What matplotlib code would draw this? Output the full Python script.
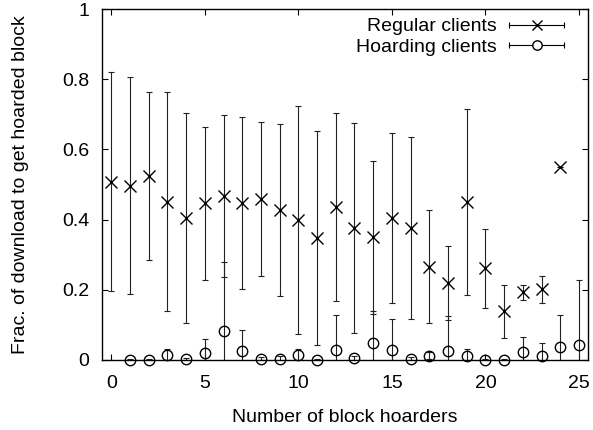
#!/usr/bin/env python3
"""Fraction of download needed to get the hoarded block, vs. number of hoarders."""

import numpy as np
import matplotlib
matplotlib.use("Agg")
import matplotlib.pyplot as plt
from matplotlib.lines import Line2D
from matplotlib.legend_handler import HandlerBase

# regular clients: x = 0..24
regular_x = list(range(0, 25))
regular_mean = [0.508, 0.496, 0.524, 0.451, 0.405, 0.446, 0.467, 0.446, 0.458,
                0.427, 0.399, 0.347, 0.435, 0.375, 0.349, 0.404, 0.377, 0.266,
                0.220, 0.451, 0.261, 0.138, 0.193, 0.201, 0.549]
regular_err = [0.313, 0.309, 0.239, 0.313, 0.300, 0.219, 0.230, 0.245, 0.219,
               0.244, 0.325, 0.304, 0.268, 0.299, 0.219, 0.242, 0.259, 0.161,
               0.106, 0.265, 0.113, 0.075, 0.021, 0.039, 0.0]

# hoarding clients: x = 1..25
hoard_x = list(range(1, 26))
hoard_mean = [0.001, 0.001, 0.015, 0.002, 0.019, 0.081, 0.025, 0.004, 0.004,
              0.015, 0.001, 0.029, 0.006, 0.047, 0.028, 0.003, 0.012, 0.026,
              0.011, 0.001, 0.001, 0.022, 0.011, 0.037, 0.042]
hoard_err = [0.001, 0.002, 0.016, 0.003, 0.042, 0.199, 0.059, 0.005, 0.006,
             0.017, 0.002, 0.100, 0.005, 0.093, 0.089, 0.004, 0.010, 0.099,
             0.019, 0.002, 0.002, 0.042, 0.038, 0.092, 0.187]

x_ticks = [0, 5, 10, 15, 20, 25]
y_ticks = [0, 0.2, 0.4, 0.6, 0.8, 1]
y_tick_labels = ["0", "0.2", "0.4", "0.6", "0.8", "1"]

FONT = 14
plt.rcParams["font.family"] = ["Liberation Sans", "DejaVu Sans"]
plt.rcParams["font.size"] = FONT


class HandlerGnuplotErr(HandlerBase):
    """gnuplot 风格图例：横线 + 两端短竖线 + 中间标记。"""

    def create_artists(self, legend, orig_handle, xdescent, ydescent,
                       width, height, fontsize, trans):
        y = height / 2 - ydescent
        x0, x1 = -xdescent, width - xdescent
        line = Line2D([x0, x1], [y, y], color="black", lw=0.8)
        caps = Line2D([x0, x1], [y, y], ls="none", marker="|",
                      markersize=4, markeredgewidth=0.8, color="black")
        mk = Line2D([(x0 + x1) / 2], [y], ls="none",
                    marker=orig_handle.get_marker(),
                    markersize=orig_handle.get_markersize() * 0.9,
                    markeredgewidth=orig_handle.get_markeredgewidth(),
                    markerfacecolor="white", markeredgecolor="black")
        for a in (line, caps, mk):
            a.set_transform(trans)
        return [line, caps, mk]


fig = plt.figure(figsize=(5.93, 4.30), dpi=100)
ax = fig.add_axes([0.172, 0.163, 0.820, 0.816])

ebar_kw = dict(fmt="none", ecolor="#222222", elinewidth=0.8, capsize=2.5,
               capthick=0.8)
ax.errorbar(regular_x, regular_mean, yerr=regular_err, **ebar_kw)
ax.errorbar(hoard_x, hoard_mean, yerr=hoard_err, **ebar_kw)

reg_pts, = ax.plot(regular_x, regular_mean, ls="none", marker="x",
                   markersize=8, markeredgewidth=1.0, color="black",
                   clip_on=False, zorder=3)
hoard_pts, = ax.plot(hoard_x, hoard_mean, ls="none", marker="o",
                     markersize=7.5, markeredgewidth=1.0,
                     markerfacecolor="none", markeredgecolor="black",
                     clip_on=False, zorder=3)

ax.set_xlim(-0.5, 25.5)
ax.set_ylim(0, 1)
ax.set_xticks(x_ticks)
ax.set_yticks(y_ticks)
ax.set_yticklabels(y_tick_labels)
ax.tick_params(direction="in", top=True, right=True, length=4, width=0.8,
               labelsize=FONT)
ax.tick_params(axis="x", pad=11)
ax.tick_params(axis="y", pad=9)
for sp in ax.spines.values():
    sp.set_linewidth(1.0)

ax.set_xlabel("Number of block hoarders", fontsize=FONT, labelpad=12)
ax.set_ylabel("Frac. of download to get hoarded block", fontsize=FONT,
              labelpad=24)

ax.legend([reg_pts, hoard_pts], ["Regular clients", "Hoarding clients"],
          handler_map={Line2D: HandlerGnuplotErr()},
          loc="upper right", bbox_to_anchor=(0.969, 1.0),
          frameon=False, markerfirst=False,
          handlelength=2.85, handletextpad=0.65, labelspacing=0.15,
          borderaxespad=0.1, borderpad=0.35, fontsize=FONT)

fig.savefig("out.png", dpi=100)
